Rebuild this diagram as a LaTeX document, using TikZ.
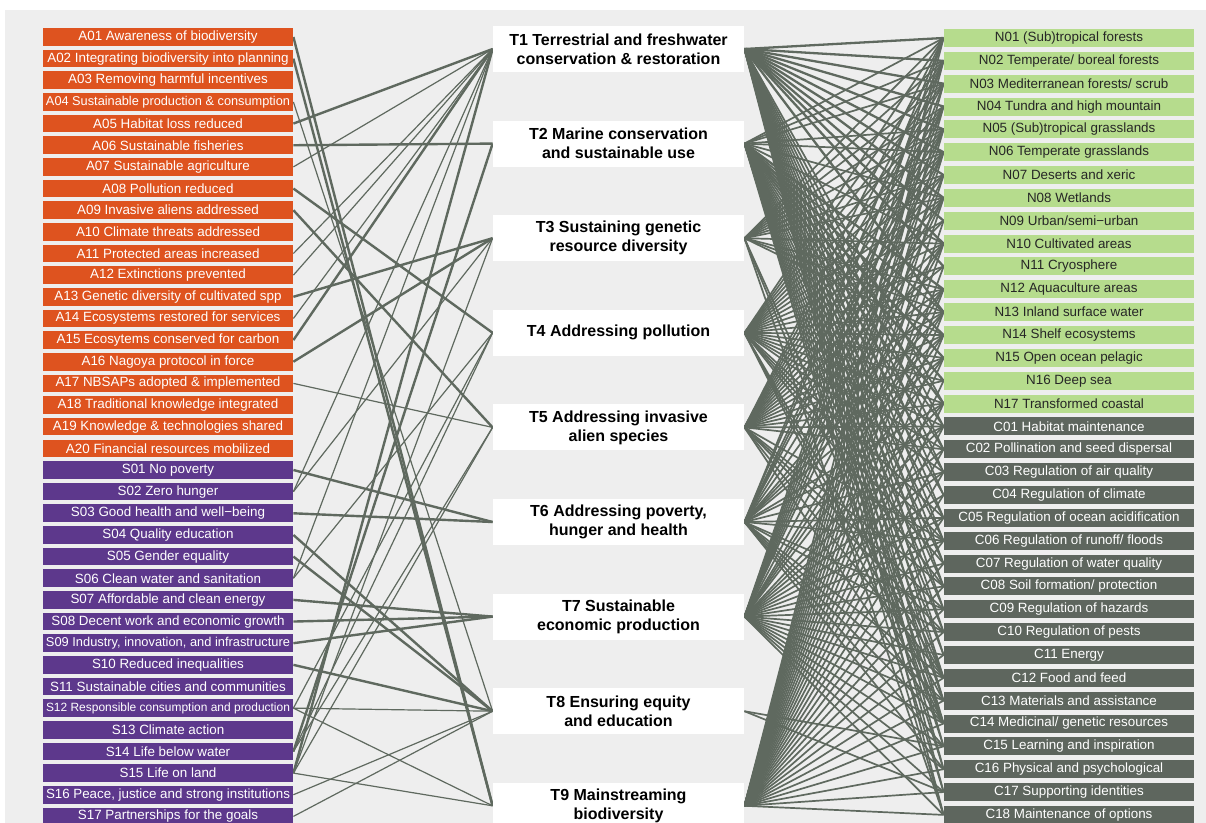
\documentclass[tikz,border=0pt]{standalone}
\usepackage{fontspec}
\setmainfont{Liberation Sans}
\usepackage{graphicx}
\usetikzlibrary{backgrounds}
\definecolor{bgc}{RGB}{238,238,238}
\definecolor{orng}{RGB}{222,83,31}
\definecolor{purp}{RGB}{93,56,140}
\definecolor{lgrn}{RGB}{182,220,141}
\definecolor{dgry}{RGB}{94,102,94}
\definecolor{edgec}{RGB}{95,105,95}
\newsavebox\fitbx
\newcommand\fitlab[1]{\sbox\fitbx{#1}\ifdim\wd\fitbx>122pt\resizebox{122pt}{!}{\usebox\fitbx}\else\usebox\fitbx\fi}
\tikzset{
 lab/.style={minimum width=125pt, minimum height=8.8pt, inner sep=0pt, font=\fontsize{6.7}{7}\selectfont},
 abox/.style={lab, fill=orng, text=white},
 sbox/.style={lab, fill=purp, text=white},
 nbox/.style={lab, minimum height=9pt, fill=lgrn, text=black!85},
 cbox/.style={lab, minimum height=9pt, fill=dgry, text=white},
 tbox/.style={fill=white, minimum width=125.5pt, minimum height=23pt, inner sep=0pt, align=center, font=\fontsize{8}{9.5}\selectfont\bfseries},
 thk/.style={draw=edgec, line width=1.2pt},
 thn/.style={draw=edgec, line width=0.6pt},
 med/.style={draw=edgec, line width=0.85pt},
 hvy/.style={draw=edgec, line width=1.15pt},
}
\begin{document}
\begin{tikzpicture}[x=0.5pt,y=-0.5pt]
\useasboundingbox (0,0) rectangle (1206,823);
% left column
\foreach \txt [count=\i] in {A01 Awareness of biodiversity, A02 Integrating biodiversity into planning, A03 Removing harmful incentives, A04 Sustainable production \& consumption, A05 Habitat loss reduced, A06 Sustainable fisheries, A07 Sustainable agriculture, A08 Pollution reduced, A09 Invasive aliens addressed, A10 Climate threats addressed, A11 Protected areas increased, A12 Extinctions prevented, A13 Genetic diversity of cultivated spp, A14 Ecosystems restored for services, A15 Ecosytems conserved for carbon, A16 Nagoya protocol in force, A17 NBSAPs adopted \& implemented, A18 Traditional knowledge integrated, A19 Knowledge \& technologies shared, A20 Financial resources mobilized}
  \node[abox] (L\i) at (168,{37+(\i-1)*21.65}) {\fitlab{\txt}};
\foreach \txt [count=\j] in {S01 No poverty, S02 Zero hunger, S03 Good health and well−being, S04 Quality education, S05 Gender equality, S06 Clean water and sanitation, S07 Affordable and clean energy, S08 Decent work and economic growth, {S09 Industry, innovation, and infrastructure}, S10 Reduced inequalities, S11 Sustainable cities and communities, S12 Responsible consumption and production, S13 Climate action, S14 Life below water, S15 Life on land, {S16 Peace, justice and strong institutions}, S17 Partnerships for the goals}
  {\pgfmathtruncatemacro\k{\j+20}
  \node[sbox] (L\k) at (168,{37+(\k-1)*21.65}) {\fitlab{\txt}};}
% right column
\foreach \txt [count=\i] in {N01 (Sub)tropical forests, N02 Temperate/ boreal forests, N03 Mediterranean forests/ scrub, N04 Tundra and high mountain, N05 (Sub)tropical grasslands, N06 Temperate grasslands, N07 Deserts and xeric, N08 Wetlands, N09 Urban/semi−urban, N10 Cultivated areas, N11 Cryosphere, N12 Aquaculture areas, N13 Inland surface water, N14 Shelf ecosystems, N15 Open ocean pelagic, N16 Deep sea, N17 Transformed coastal}
  \node[nbox] (R\i) at (1069,{38+(\i-1)*22.85}) {\fitlab{\txt}};
\foreach \txt [count=\j] in {C01 Habitat maintenance, C02 Pollination and seed dispersal, C03 Regulation of air quality, C04 Regulation of climate, C05 Regulation of ocean acidification, C06 Regulation of runoff/ floods, C07 Regulation of water quality, C08 Soil formation/ protection, C09 Regulation of hazards, C10 Regulation of pests, C11 Energy, C12 Food and feed, C13 Materials and assistance, C14 Medicinal/ genetic resources, C15 Learning and inspiration, C16 Physical and psychological, C17 Supporting identities, C18 Maintenance of options}
  {\pgfmathtruncatemacro\k{\j+17}
  \node[cbox] (R\k) at (1069,{38+(\k-1)*22.85}) {\fitlab{\txt}};}
% targets
\foreach \txt [count=\i] in {T1 Terrestrial and freshwater\\conservation \& restoration, T2 Marine conservation\\and sustainable use, T3 Sustaining genetic\\resource diversity, T4 Addressing pollution, T5 Addressing invasive\\alien species, {T6 Addressing poverty,\\hunger and health}, T7 Sustainable\\economic production, T8 Ensuring equity\\and education, T9 Mainstreaming\\biodiversity}
  \node[tbox] (T\i) at (618.5,{49+(\i-1)*94.6}) {\txt};
\begin{pgfonlayer}{background}
\fill[bgc] (5,10) rectangle (1206,823);
% left connectors
\foreach \a/\b in {1/9, 2/9, 5/1, 6/2, 8/4, 9/5, 13/3, 15/1, 16/3, 21/6, 23/6, 24/8, 25/8, 27/7, 28/7, 29/7, 30/8, 34/2, 35/1}
  \draw[thk] (L\a.east) -- (T\b.west);
\foreach \a/\b in {4/8, 7/1, 11/1, 12/1, 14/1, 17/5, 22/1, 22/3, 26/1, 26/4, 32/4, 32/8, 32/9, 34/4, 34/5, 35/3, 35/5, 35/9, 36/8, 37/8}
  \draw[thn] (L\a.east) -- (T\b.west);
% right connectors
\foreach \t/\lst in {1/{1,2,3,4,5,6,7,8,9,10,11,13}, 2/{12,14,15,16,17}}
  {\foreach \r in \lst {\draw[hvy] (T\t.east) -- (R\r.west);}}
\foreach \t/\lst in {
  1/{17,18,19,20,21,22,23,24,25,26,27,28,29,30,31,32,33,34,35},
  2/{1,2,3,5,6,8,10,13,18,19,20,21,22,23,24,25,26,27,28,29,30,31,32,33,34,35},
  3/{1,2,3,4,5,6,7,8,10,12,13,14,29,31,35},
  4/{1,2,3,4,5,6,7,8,9,10,11,12,13,14,15,16,17,18,19,20,22,23,24,25,29,30,31},
  5/{1,2,3,4,5,6,7,8,9,10,11,12,13,14,15,16,17,18,19,23,25,26,27,29,31},
  6/{1,2,4,5,6,8,10,12,13,14,15,17,18,20,22,23,26,27,29,30,31,32,33},
  7/{1,2,3,4,5,6,7,8,10,12,13,14,15,17,18,19,20,21,22,23,24,25,26,27,28,29,30,31,32,33,34,35},
  8/{32,34},
  9/{1,2,3,4,5,6,7,8,9,10,11,12,13,14,15,16,17,18,19,20,21,22,23,24,25,26,27,28,29,30,31,32,33,34,35}}
  {\foreach \r in \lst {\draw[med] (T\t.east) -- (R\r.west);}}
\end{pgfonlayer}
\end{tikzpicture}
\end{document}
